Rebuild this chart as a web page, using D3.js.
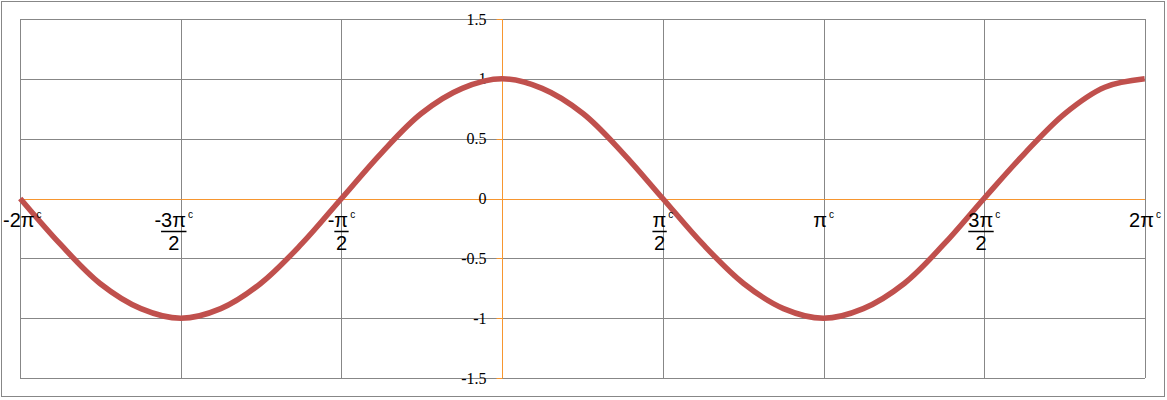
<!DOCTYPE html>
<html><head><meta charset="utf-8">
<script src="https://cdn.jsdelivr.net/npm/d3@7"></script>
<style>html,body{margin:0;padding:0;background:#fff;}svg{display:block;}</style>
</head><body>
<svg id="c" width="1167" height="400"></svg>
<script>
const xValues = [-4.71,-4.32,-3.93,-3.53,-3.14,-2.75,-2.36,-1.96,-1.57,-1.18,-0.79,-0.39,0,
  0.39,0.79,1.18,1.57,1.96,2.36,2.75,3.14,3.53,3.93,4.32,4.71,5.11,5.50,5.89,6.28];
const yValues = [0,-0.38,-0.71,-0.92,-1,-0.92,-0.71,-0.38,0,0.38,0.71,0.92,1,
  0.92,0.71,0.38,0,-0.38,-0.71,-0.92,-1,-0.92,-0.71,-0.38,0,0.38,0.71,0.93,1];
// category gridline positions (radians) and their labels
const xTicks = [-4.712,-3.1416,-1.5708,0,1.5708,3.1416,4.712,6.2832];
const xLabelNum = ["-2π","-3π","-π","","π","π","3π","2π"];
const xLabelDen = ["","2","2","","2","","2",""];
const yTicks = [-1.5,-1,-0.5,0,0.5,1,1.5];
const yLabels = ["-1.5","-1","-0.5","0","0.5","1","1.5"];

const svg = d3.select("#c");
const L = 20, R = 1145, T = 19, B = 378;
const x = d3.scaleLinear().domain([xTicks[0], xTicks[xTicks.length-1]]).range([L, R]);
const y = d3.scaleLinear().domain([-1.5, 1.5]).range([B, T]);
const grid = "#878787", orange = "#F7962F";

svg.append("rect").attr("x",1.5).attr("y",1.5).attr("width",1163).attr("height",395)
  .attr("fill","none").attr("stroke",grid).attr("stroke-width",1);

// horizontal gridlines
svg.append("g").selectAll("line").data(yTicks).join("line")
  .attr("x1",L).attr("x2",R).attr("y1",d=>Math.round(y(d))+0.5).attr("y2",d=>Math.round(y(d))+0.5)
  .attr("stroke",grid);
// vertical gridlines
svg.append("g").selectAll("line").data(xTicks).join("line")
  .attr("y1",T).attr("y2",B).attr("x1",d=>Math.round(x(d))+0.5).attr("x2",d=>Math.round(x(d))+0.5)
  .attr("stroke",grid);

// x axis (orange) at y=0
const x0y = Math.round(y(0))+0.5;
svg.append("line").attr("x1",L).attr("x2",R).attr("y1",x0y).attr("y2",x0y).attr("stroke",orange);
svg.append("g").selectAll("line").data(xTicks).join("line")
  .attr("x1",d=>Math.round(x(d))+0.5).attr("x2",d=>Math.round(x(d))+0.5)
  .attr("y1",x0y).attr("y2",x0y+3).attr("stroke",grid);

// y axis (orange) at x=0
const y0x = Math.round(x(0))+0.5;
svg.append("line").attr("x1",y0x).attr("x2",y0x).attr("y1",T).attr("y2",B).attr("stroke",orange);
svg.append("g").selectAll("line").data(yTicks).join("line")
  .attr("x1",y0x-6).attr("x2",y0x).attr("y1",d=>Math.round(y(d))+0.5).attr("y2",d=>Math.round(y(d))+0.5)
  .attr("stroke",orange);
svg.append("g").selectAll("text").data(yTicks).join("text")
  .attr("x",y0x-16).attr("y",d=>y(d)+5.5)
  .attr("text-anchor","end").attr("font-family","Liberation Serif, serif").attr("font-size",16)
  .attr("fill","#000").text((d,i)=>yLabels[i]);

// curve
const line = d3.line().x((d,i)=>x(xValues[i])).y(d=>y(d)).curve(d3.curveCatmullRom.alpha(0.5));
svg.append("path").datum(yValues).attr("d",line).attr("fill","none")
  .attr("stroke","#C0504D").attr("stroke-width",5.5).attr("stroke-linejoin","round");

// x labels
const fam = "Liberation Sans, Arial, sans-serif";
const nudge = {1: -7};
xTicks.forEach((t,i)=>{
  const num = xLabelNum[i]; if(!num) return;
  const cx = x(t) + (nudge[i] || 0);
  const g = svg.append("g");
  const tx = g.append("text").attr("y",226.5).attr("font-family",fam).attr("font-size",20).attr("fill","#000");
  tx.append("tspan").text(num);
  tx.append("tspan").attr("font-size",10).attr("dy",-9).attr("dx",2).text("c");
  const numW = tx.node().firstChild.getComputedTextLength();
  const totW = tx.node().getComputedTextLength() + 2;
  const left = Math.max(3, Math.min(1163 - totW, cx - totW/2));
  tx.attr("x", left);
  if (xLabelDen[i]) {
    const tmp = g.append("text").attr("font-family",fam).attr("font-size",20).text("-");
    const minusW = num.startsWith("-") ? tmp.node().getComputedTextLength() : 0;
    tmp.remove();
    const x1 = left + minusW, x2 = left + numW + 0.5;
    g.append("line").attr("x1",x1).attr("x2",x2).attr("y1",231.5).attr("y2",231.5)
      .attr("stroke","#000").attr("stroke-width",1.5);
    g.append("text").attr("x",(x1+x2)/2).attr("y",249.5).attr("text-anchor","middle")
      .attr("font-family",fam).attr("font-size",20).attr("fill","#000").text(xLabelDen[i]);
  }
});
</script>
</body></html>
